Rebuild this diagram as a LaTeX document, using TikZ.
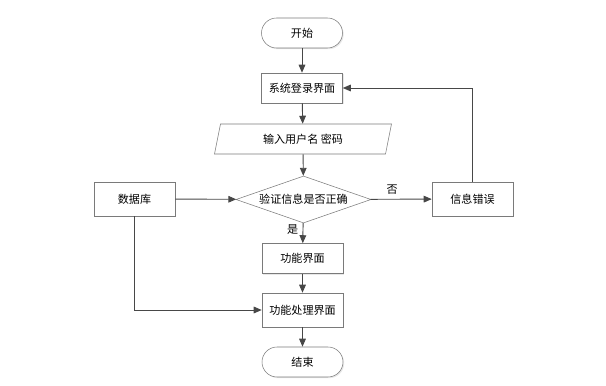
\documentclass[tikz,border=0pt]{standalone}
\usepackage{fontspec}
\setmainfont{Noto Sans CJK SC}
\usetikzlibrary{arrows.meta,positioning,shapes.geometric,shadows}

\definecolor{linegray}{HTML}{474747}
\definecolor{boxgray}{HTML}{7A7A7A}

\begin{document}
\begin{tikzpicture}[
  x=0.75pt, y=-0.75pt,
  font=\fontsize{8.3pt}{10pt}\selectfont,
  box/.style={draw=boxgray, fill=white, align=center, minimum width=60.75pt, minimum height=22.5pt,
    drop shadow={shadow xshift=0.9pt, shadow yshift=-0.9pt, fill=black!18}},
  terminal/.style={box, rounded corners=11.25pt},
  io/.style={trapezium, trapezium left angle=60, trapezium right angle=120, trapezium stretches body,
    draw=boxgray, fill=white, minimum width=132.75pt, minimum height=22.5pt, inner sep=0pt},
  decision/.style={diamond, draw=boxgray, fill=white, aspect=2.87, inner sep=0pt,
    minimum width=101.25pt, minimum height=35.25pt},
  arrow/.style={-{Triangle[length=6pt,width=5pt]}, draw=linegray, line width=0.7pt}
]
\useasboundingbox (0,0) rectangle (606,385);

\node[terminal] (start) at (302,33) {开始};
\node[box] (login) at (302,88) {系统登录界面};
\node[io] (input) at (303,139) {输入用户名 密码};
\node[decision] (check) at (303.5,199.5) {验证信息是否正确};
\node[box, minimum height=25.5pt] (db) at (134.5,199) {数据库};
\node[box, minimum height=25.5pt] (err) at (472.5,199) {信息错误};
\node[box] (func) at (302.5,258.5) {功能界面};
\node[box, minimum height=25.5pt] (proc) at (302.5,310) {功能处理界面};
\node[terminal] (stop) at (302.5,362) {结束};

\draw[arrow] (start) -- (login);
\draw[arrow] (login) -- (input);
\draw[arrow] (input) -- (check);
\draw[arrow] (db) -- (check);
\draw[arrow] (check) -- node[pos=0.35, above] {否} (err);
\draw[arrow] (check) -- node[pos=0.3, left] {是} (func);
\draw[arrow] (err.north) |- (login.east);
\draw[arrow] (func) -- (proc);
\draw[arrow] (db.south) |- (proc.west);
\draw[arrow] (proc) -- (stop);
\end{tikzpicture}
\end{document}
